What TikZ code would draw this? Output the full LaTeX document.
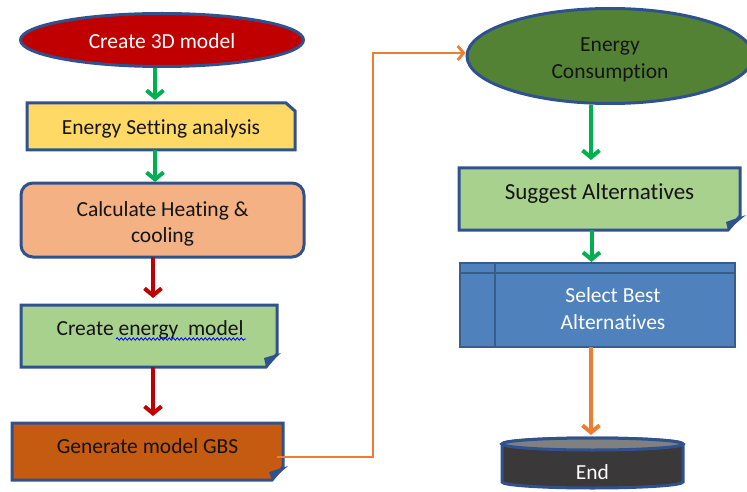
\documentclass[tikz,border=0pt]{standalone}
\usepackage{fontspec}
\setmainfont{Carlito}[Ligatures=NoCommon]
\usetikzlibrary{arrows.meta,shapes.geometric,decorations.pathmorphing}
\definecolor{bord}{RGB}{47,82,143}
\definecolor{cred}{RGB}{192,0,0}
\definecolor{cyellow}{RGB}{255,217,102}
\definecolor{corange}{RGB}{244,177,131}
\definecolor{clgreen}{RGB}{169,209,142}
\definecolor{cbrown}{RGB}{197,90,17}
\definecolor{cdgreen}{RGB}{84,130,53}
\definecolor{cblue}{RGB}{79,129,189}
\definecolor{cbblue}{RGB}{56,93,138}
\definecolor{cdark}{RGB}{58,56,56}
\definecolor{cgray}{RGB}{128,128,128}
\definecolor{agreen}{RGB}{0,176,80}
\definecolor{aorange}{RGB}{237,125,49}
\definecolor{ctext}{RGB}{20,20,20}
\pgfdeclarelayer{bg}
\pgfsetlayers{bg,main}
\tikzset{
  box/.style={rectangle, inner sep=0pt, outer sep=0pt},
  shapeline/.style={draw=bord, line width=3pt, line join=miter},
  conn/.style={line width=4pt, -{Straight Barb[length=7pt,width=17pt]}},
  garrow/.style={conn, draw=agreen},
  rarrow/.style={conn, draw=cred},
  oarrow/.style={conn, draw=aorange},
  olink/.style={line width=2.8pt, draw=aorange, -{Straight Barb[length=6pt,width=14pt]}},
  txt/.style={inner sep=0pt, text=ctext, align=center},
  wtxt/.style={inner sep=0pt, text=white, align=center},
  flap/.style={fill=bord}
}
\begin{document}
\begin{tikzpicture}[x=1pt,y=-1pt, font=\fontsize{21.5}{26.5}\selectfont]
\useasboundingbox (0,0) rectangle (747,492);

% Create 3D model
\node[ellipse, draw=bord, line width=3pt, fill=cred, minimum width=283pt, minimum height=53pt, inner sep=0pt] (n1) at (162,40) {};
\node[wtxt] (n1t) at (162,41) {Create 3D model};

% Energy Setting analysis
\node[box, minimum width=268pt, minimum height=47pt] (n2) at (161,126.5) {};
\node[txt] (n2t) at (161,129) {Energy Setting analysis};
\begin{pgfonlayer}{bg}
\filldraw[shapeline, fill=cyellow] (n2.north west) -- ([xshift=-9pt]n2.north east) -- ([yshift=-8pt]n2.north east) -- (n2.south east) -- (n2.south west) -- cycle;
\end{pgfonlayer}

% Calculate Heating & cooling
\node[box, rounded corners=12pt, draw=bord, line width=3pt, fill=corange, minimum width=283pt, minimum height=74pt] (n3) at (162.5,220) {};
\node[txt] (n3t) at (162.5,224) {Calculate Heating \&\\cooling};

% Create energy model
\node[box, minimum width=256pt, minimum height=62pt] (n4) at (149,336) {};
\node[txt] (n4t) at (150,329.5) {Create energy\ \ model};
\begin{pgfonlayer}{bg}
\filldraw[shapeline, fill=clgreen] (n4.north west) -- (n4.north east) -- ([yshift=13pt]n4.south east) -- ([xshift=-11pt]n4.south east) -- (n4.south west) -- cycle;
\fill[flap] ([xshift=4pt,yshift=14pt]n4.south east) -- ([xshift=-11pt]n4.south east) -- ([xshift=-13pt,yshift=9pt]n4.south east) -- cycle;
\end{pgfonlayer}
\draw[blue, line width=0.8pt, decorate, decoration={snake, amplitude=1.2pt, segment length=4pt}] (116,339) -- (246,339);

% Generate model GBS
\node[box, minimum width=271pt, minimum height=57pt] (n5) at (147.5,451.5) {};
\node[txt] (n5t) at (147.5,446) {Generate model GBS};
\begin{pgfonlayer}{bg}
\filldraw[shapeline, fill=cbrown] (n5.north west) -- (n5.north east) -- ([yshift=13pt]n5.south east) -- ([xshift=-11pt]n5.south east) -- (n5.south west) -- cycle;
\fill[flap] ([xshift=5pt,yshift=14pt]n5.south east) -- ([xshift=-11pt]n5.south east) -- ([xshift=-14pt,yshift=8pt]n5.south east) -- cycle;
\end{pgfonlayer}

% Energy Consumption
\node[ellipse, draw=bord, line width=3pt, fill=cdgreen, minimum width=286pt, minimum height=95pt, inner sep=0pt] (n6) at (610,56) {};
\node[txt] (n6t) at (610,60) {Energy\\Consumption};

% Suggest Alternatives
\node[box, minimum width=281pt, minimum height=62pt] (n7) at (599.5,199) {};
\node[txt, font=\fontsize{23}{28}\selectfont] (n7t) at (599.5,193.5) {Suggest Alternatives};
\begin{pgfonlayer}{bg}
\filldraw[shapeline, fill=clgreen] (n7.north west) -- (n7.north east) -- ([yshift=14pt]n7.south east) -- ([xshift=-12pt]n7.south east) -- (n7.south west) -- cycle;
\fill[flap] ([xshift=6pt,yshift=15pt]n7.south east) -- ([xshift=-12pt]n7.south east) -- ([xshift=-14pt,yshift=8pt]n7.south east) -- cycle;
\end{pgfonlayer}

% Select Best Alternatives
\node[box, draw=cbblue, line width=2pt, fill=cblue, minimum width=275pt, minimum height=84pt] (n8) at (597.5,305) {};
\draw[cbblue, line width=2pt] ([yshift=-10pt]n8.north west) -- ([yshift=-10pt]n8.north east);
\draw[cbblue, line width=2pt] ([xshift=35pt]n8.north west) -- ([xshift=35pt]n8.south west);
\node[wtxt] (n8t) at (613,308.5) {Select Best\\Alternatives};

% End
\node[box, minimum width=181pt, minimum height=50pt] (n9) at (592.5,463) {};
\begin{pgfonlayer}{bg}
\filldraw[draw=bord, line width=3pt, fill=cdark] ([yshift=-6pt]n9.north west) -- ([yshift=6pt]n9.south west) arc[start angle=180, end angle=360, x radius=90.5pt, y radius=6pt] -- ([yshift=-6pt]n9.north east) arc[start angle=0, end angle=180, x radius=90.5pt, y radius=6pt] -- cycle;
\filldraw[draw=bord, line width=3pt, fill=cgray] ([yshift=-6pt]n9.north) ellipse[x radius=90.5pt, y radius=6pt];
\end{pgfonlayer}
\node[wtxt] (n9t) at (592.5,472.5) {End};

% connectors
\draw[garrow] ([xshift=-7pt]n1.south) -- ([xshift=-6pt,yshift=3pt]n2.north);
\draw[garrow] ([xshift=-6pt]n2.south) -- ([xshift=-7.5pt,yshift=1pt]n3.north);
\draw[rarrow] ([xshift=-9.5pt]n3.south) -- ([xshift=4pt,yshift=7pt]n4.north);
\draw[rarrow] ([xshift=4pt]n4.south) -- ([xshift=5.5pt,yshift=7pt]n5.north);
\draw[olink] ([xshift=-6pt,yshift=-5.5pt]n5.east) -- (373,457) |- ([yshift=3pt]n6.west);
\draw[garrow] ([xshift=-19pt]n6.south) -- ([xshift=-8.5pt,yshift=8pt]n7.north);
\draw[garrow] ([xshift=-8pt]n7.south) -- ([xshift=-6pt,yshift=1pt]n8.north);
\draw[oarrow] ([xshift=-6.5pt]n8.south) -- ([xshift=-1.5pt,yshift=3pt]n9.north);
\end{tikzpicture}
\end{document}
